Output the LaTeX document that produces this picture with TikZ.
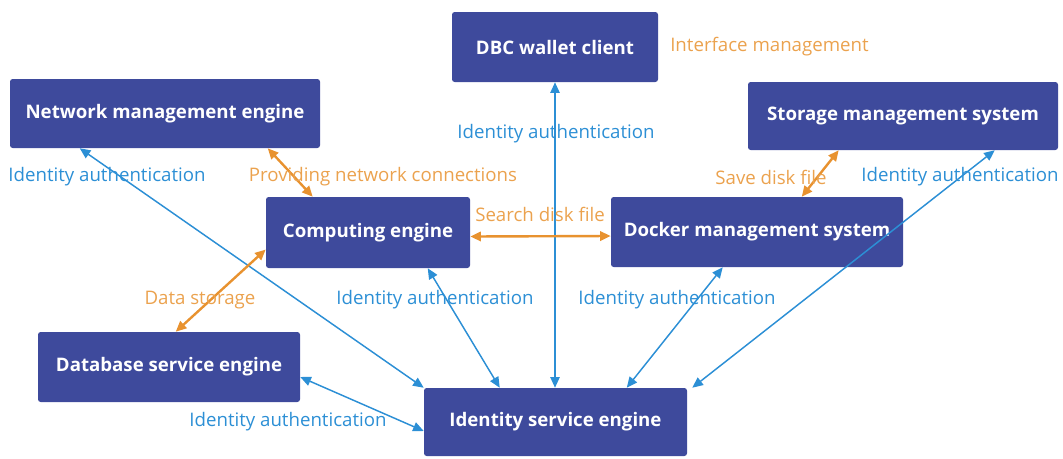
\documentclass[tikz,border=0pt]{standalone}
\usepackage{fontspec}
\setmainfont{Open Sans}
\usetikzlibrary{arrows.meta,calc}
\definecolor{boxblue}{HTML}{3E4A9C}
\definecolor{authblue}{HTML}{2C8FD5}
\definecolor{linkorange}{HTML}{E8922F}

\begin{document}
\begin{tikzpicture}[x=0.75pt,y=-0.75pt,>={Triangle[length=8pt,width=7pt]}]
    \tikzstyle{engine} = [rectangle, rounded corners=2pt, fill=boxblue, text=white, inner sep=0pt, font=\bfseries\fontsize{14}{16}\selectfont]
    \tikzstyle{auth} = [<->, draw=authblue, fill=authblue, line width=1.1pt]
    \tikzstyle{link} = [<->, draw=linkorange, fill=linkorange, line width=1.8pt]
    \tikzstyle{authlabel} = [text=authblue, inner sep=0pt, font=\fontsize{14}{16}\selectfont]
    \tikzstyle{linklabel} = [text=linkorange!85, inner sep=0pt, font=\fontsize{14}{16}\selectfont]

    \useasboundingbox (0,0) rectangle (1063,458);

    %%% DRAW THE ENGINES
    \foreach \name / \x / \y / \w / \h / \txt in {dbc/555/47/206/70/DBC wallet client,
        net/165/113.5/310/69/Network management engine,
        stor/903/116/310/68/Storage management system,
        comp/368/232.5/204/71/Computing engine,
        dock/757/232/292/70/Docker management system,
        db/169/367/262/70/Database service engine,
        ident/555.5/422/263/68/Identity service engine}
        \node[engine, minimum width=\w*0.75pt, minimum height=\h*0.75pt] (\name) at (\x,\y) {\txt};

    %%% DRAW THE PATHS
    \draw[auth] ($(net.south west)+(70,0)$) -- (ident.north west);
    \draw[link] ($(net.south west)+(258,0)$) -- ($(comp.north west)+(47,0)$);
    \draw[link] ($(comp.west)+(0,17)$) -- ($(db.north west)+(138,0)$);
    \draw[auth] ($(comp.south west)+(162,0)$) -- ($(ident.north west)+(76,0)$);
    \draw[auth] ($(db.east)+(0,10)$) -- ($(ident.west)+(0,9)$);
    \draw[auth] (dbc.south) -- (dbc.south |- ident.north);
    \draw[link] ($(comp.east)+(0,4)$) -- ($(dock.west)+(0,4)$);
    \draw[auth] ($(dock.south west)+(112,0)$) -- ($(ident.north west)+(203,0)$);
    \draw[auth] ($(stor.south west)+(247,0)$) -- ($(ident.north east)+(5,0)$);
    \draw[link] ($(stor.south west)+(91,0)$) -- ($(dock.north west)+(191,0)$);

    %%% ANNOTATE
    \foreach \name / \x / \y in {net/107/177, dbc/556/134, stor/960/177, comp/435/300, dock/677/300, db/288/422}
        \node[authlabel] (auth-\name) at (\x,\y) {Identity authentication};
    \node[linklabel, anchor=west] (iface) at (670,47) {Interface management};
    \node[linklabel] (netconn) at (383,177) {Providing network connections};
    \node[linklabel] (search) at (540,214) {Search disk file};
    \node[linklabel] (save) at (771,177) {Save disk file};
    \node[linklabel] (store) at (200,300) {Data storage};

\end{tikzpicture}
\end{document}
